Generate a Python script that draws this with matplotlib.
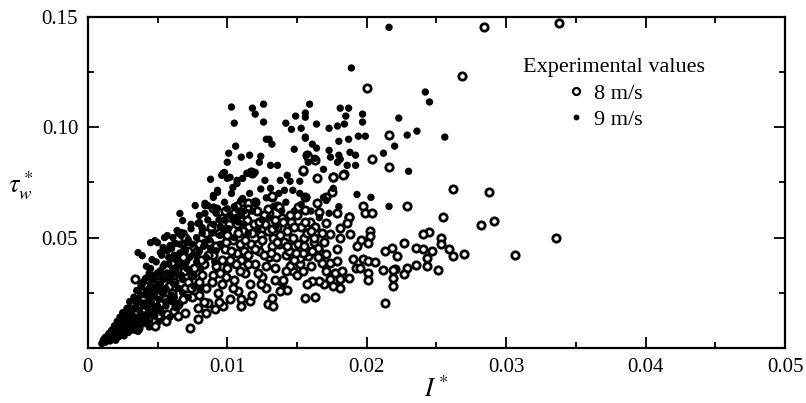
import numpy as np
import matplotlib
matplotlib.use("Agg")
import matplotlib.pyplot as plt
from matplotlib.lines import Line2D

plt.rcParams['font.family'] = ['Liberation Serif', 'DejaVu Serif']
plt.rcParams['mathtext.fontset'] = 'stix'

# values, in units of 1e-3 (I*, tau_w*)
# 9 m/s -- filled dots
x9 = [21.6, 18.9, 24.2, 24.5, 10.3, 11.8, 12.6, 12.0, 10.5, 12.6, 15.9, 14.9, 15.6, 15.6, 14.2, 14.6, 15.3, 16.4,
      18.1, 18.7, 18.5, 19.7, 19.7, 18.4, 17.9, 17.3, 22.3, 19.4, 19.9, 18.0, 18.7, 15.6, 13.0, 13.2, 10.6, 10.1,
      10.0, 11.0, 11.6, 12.4, 12.3, 13.1, 13.6, 14.8, 16.1, 16.4, 17.3, 17.4, 18.0, 18.1, 18.8, 19.2, 18.6, 19.2,
      16.9, 21.2, 22.0, 22.9, 23.6, 25.6, 23.0, 19.3, 20.3, 21.6, 8.8, 13.8, 14.3,
      12.8, 15.6, 15.7, 16.3, 15.8, 17.9,
      9.7, 10.0, 10.7, 11.1, 11.6, 12.0, 10.4, 9.3, 9.0, 8.4, 10.3, 11.1, 12.7, 14.5, 15.2, 13.1, 14.1, 14.7, 15.2,
      15.7, 17.6, 16.9, 17.1,
      9.8, 10.2, 9.6, 9.3, 9.0, 10.7, 11.4, 7.7, 6.6, 6.8, 8.6, 9.3, 8.0, 8.2, 4.8, 5.5, 5.4, 6.4, 6.7, 6.2, 7.1,
      3.6, 3.9, 4.5, 5.0, 5.2, 5.7, 6.1, 6.5, 6.7, 5.4, 5.9, 6.3, 7.9, 8.2, 9.1, 8.4,
      1.0, 1.1, 1.2, 1.3, 1.4, 1.5, 1.5, 1.2,
      1.7, 1.8, 1.9, 2.0, 2.1, 2.2, 2.3, 2.4, 2.5, 2.5, 2.0, 2.3,
      2.7, 2.8, 2.9, 3.0, 3.0, 3.1, 3.2, 3.3, 3.4, 3.5, 3.5, 2.8, 3.3,
      3.7, 3.8, 3.9, 4.0, 4.1, 4.2, 4.3, 4.4, 4.5, 4.5, 3.9, 4.3,
      4.7, 4.8, 4.9, 5.0, 5.1, 5.2, 5.3, 5.4, 5.5, 5.0, 5.4,
      5.7, 5.8, 6.0, 6.1, 6.2, 6.4, 6.6, 6.8, 7.0, 6.5, 6.9, 7.2,
      7.4, 7.8, 8.0, 8.3, 8.6, 8.9, 9.2, 9.5, 9.8, 10.2, 10.5, 10.8, 11.2, 11.6, 12.0, 12.4, 12.8, 13.3, 13.7,
      14.2, 14.8, 15.3, 16.0, 16.6, 17.3, 18.0, 11.5, 12.5, 13.5, 9.5, 10.5,
      1.3, 1.6, 1.8, 2.0, 2.2, 2.4, 2.6, 2.7, 2.9, 3.1, 3.2, 3.4, 3.6, 3.6, 3.8, 3.8, 4.0, 4.1, 4.2, 4.4, 4.4,
      4.6, 4.6, 4.8, 4.8, 5.0, 5.0, 5.2, 5.2, 5.4, 5.6, 5.6, 5.8, 5.8, 6.0, 6.0, 6.2, 6.3, 6.5, 6.6, 6.8, 6.9,
      7.1, 7.3, 7.5, 7.6, 7.8, 8.0, 8.2, 8.5, 8.7, 9.0, 9.2, 9.5, 9.8, 10.1, 10.4, 10.8, 11.2, 11.0, 3.0, 2.6,
      2.2, 1.9, 1.6, 3.8, 4.6, 4.2, 7.4, 8.4,
      4.0, 4.4, 4.9, 5.3, 5.7, 6.1, 6.4, 6.7, 7.0, 7.3, 7.7, 8.1, 8.4, 8.8, 9.1, 9.4, 9.7, 10.0, 10.6, 11.0, 11.8,
      12.2, 13.0, 13.9, 3.4, 2.9, 2.5, 2.1, 1.7, 3.6, 4.7, 6.2,
      2.6, 3.0, 3.4, 3.7, 4.0, 4.3, 4.6, 4.9, 5.3, 5.6, 6.0, 6.4, 6.8, 7.2, 7.6, 8.0, 5.9, 5.1, 4.4, 3.6]
y9 = [145.2, 126.8, 115.9, 111.4, 109.1, 108.6, 110.4, 105.9, 101.8, 102.3, 110.4, 105.0, 106.4, 104.5, 101.8, 99.0,
      99.5, 101.4, 108.6, 108.6, 105.0, 105.9, 102.3, 101.4, 100.5, 99.5, 104.1, 95.9, 95.9, 93.6, 94.5, 95.5, 94.5,
      92.3, 91.4, 88.2, 84.1, 86.4, 87.3, 86.8, 84.1, 82.7, 82.7, 90.0, 92.3, 90.5, 89.5, 86.4, 87.3, 85.5, 88.6,
      87.3, 82.7, 82.7, 80.9, 88.2, 91.4, 96.4, 98.2, 95.5, 80.0, 69.5, 68.2, 64.1, 76.4, 75.9, 78.2,
      94.5, 95.0, 87.3, 85.9, 84.1, 84.1,
      79.1, 76.8, 75.9, 76.8, 79.1, 79.5, 72.7, 71.4, 68.2, 65.5, 70.0, 67.7, 75.9, 75.5, 75.5, 72.3, 71.4, 71.4, 70.0,
      68.2, 72.3, 68.2, 66.8,
      79.5, 77.3, 78.2, 70.5, 69.1, 74.5, 79.1, 64.5, 60.9, 57.7, 64.5, 63.2, 56.8, 54.5, 48.6, 50.0, 44.1, 53.2, 50.9,
      47.3, 47.7,
      43.2, 41.8, 47.7, 47.7, 43.2, 50.9, 50.0, 51.8, 52.3, 45.5, 46.4, 47.3, 56.4, 54.1, 63.6, 64.5,
      2.0, 3.5, 2.5, 5.0, 3.5, 6.5, 4.5, 4.5,
      8.0, 5.5, 10.0, 7.5, 12.0, 9.0, 14.0, 11.0, 7.5, 16.0, 5.0, 6.5,
      13.0, 18.0, 10.0, 15.0, 21.0, 12.0, 18.0, 23.0, 14.0, 20.0, 26.0, 8.5, 10.5,
      17.0, 24.0, 29.0, 20.0, 15.0, 26.0, 32.0, 22.0, 28.0, 36.0, 12.5, 18.0,
      25.0, 33.0, 39.0, 29.0, 22.0, 35.0, 42.0, 31.0, 38.0, 19.0, 26.0,
      34.0, 41.0, 45.0, 36.0, 29.0, 40.0, 47.0, 38.0, 44.0, 33.0, 52.0, 49.0,
      56.0, 50.0, 60.0, 46.0, 58.0, 52.0, 61.0, 55.0, 66.0, 60.0, 64.0, 57.0, 62.0, 70.0, 66.0, 72.0, 68.0, 64.0, 70.0,
      66.0, 62.0, 65.0, 62.0, 59.0, 61.0, 64.0, 52.0, 58.0, 55.0, 47.0, 50.0,
      2.8, 3.2, 4.2, 3.5, 5.0, 6.0, 5.5, 9.5, 7.0, 8.0, 14.5, 11.5, 9.5, 13.5, 15.5, 20.5, 11.0, 24.0, 13.0, 16.0, 27.0,
      20.0, 31.0, 14.5, 23.0, 26.0, 34.0, 17.5, 29.0, 37.0, 21.0, 27.0, 31.0, 38.0, 24.0, 33.0, 42.0, 35.0, 27.0, 43.0,
      31.0, 45.0,
      36.0, 41.0, 47.0, 33.0, 39.0, 44.0, 52.0, 41.0, 49.0, 56.0, 44.0, 51.0, 58.0, 54.0, 58.0, 62.0, 56.0, 67.0, 17.0,
      11.5, 7.5, 6.5, 5.0, 28.0, 40.0, 37.0, 54.0, 61.0,
      30.0, 34.0, 28.0, 32.0, 44.0, 41.0, 37.0, 33.0, 38.0, 35.0, 42.0, 36.0, 48.0, 45.0, 39.0, 58.0, 54.0, 63.0, 59.0,
      60.0, 62.0, 54.0, 59.0, 62.0, 18.0, 15.5, 12.5, 9.5, 6.8, 22.0, 17.0, 23.0,
      7.0, 9.0, 8.0, 11.0, 14.0, 12.0, 15.0, 18.0, 16.0, 19.0, 21.0, 19.0, 25.0, 23.0, 28.0, 27.0, 14.0, 12.0, 9.5,
      7.5]

# 8 m/s -- open circles
x8 = [28.4, 33.8, 26.8, 20.0, 21.6, 21.6, 20.4, 18.4, 17.6, 15.7, 15.4, 11.8, 26.2, 28.8, 29.1, 28.2, 30.6, 33.6,
      22.9, 25.5,
      24.5, 24.0, 25.3, 22.7, 23.5, 24.0, 24.7, 25.3, 25.9, 26.2, 27.0, 24.3, 24.3, 25.1, 23.5, 22.9, 22.7, 22.0,
      21.9, 21.9, 21.8, 22.2,
      21.3, 19.7, 19.9, 20.4, 18.7, 20.2, 20.2, 20.1, 19.6, 19.3, 21.3, 19.0, 19.7, 20.1, 20.6, 19.2, 19.5, 20.1,
      20.1, 21.2, 21.9,
      17.9, 17.1, 16.6, 16.8, 17.4, 17.9, 17.1, 17.7, 18.2, 17.4, 18.1, 18.7, 16.9, 17.6, 18.1, 16.6, 16.1, 15.7,
      15.6, 16.3, 12.9, 13.2, 13.3, 14.3, 13.9, 15.8, 14.7, 15.2,
      13.2, 13.6, 15.6, 16.4, 17.1, 17.5, 15.6, 16.6, 17.9, 18.7, 17.1, 18.1, 18.6, 17.4, 18.1, 18.8, 16.5, 15.7,
      15.2, 14.7,
      3.6, 4.3, 4.8, 5.0, 5.7, 5.6, 6.2, 6.5, 7.0, 7.3, 7.9, 7.9, 8.5, 9.1, 9.7, 8.6, 3.4, 4.2,
      15.8, 16.3, 15.4, 16.4, 17.6, 18.3, 13.2, 11.5, 11.0, 11.7, 9.0, 10.7, 11.0, 11.6,
      5.5, 6.0, 6.5, 7.0, 7.5, 8.0, 8.0, 8.5, 9.0, 9.3, 9.6, 10.0, 10.2, 10.5, 10.8, 11.0, 11.3, 11.6, 11.0, 11.8,
      12.0, 12.3, 12.5, 12.8, 13.0, 13.4, 13.7, 14.0, 14.2, 14.5, 14.8, 15.0, 15.5, 16.0, 16.2, 16.8,
      6.5, 7.0, 7.5, 7.8, 8.3, 8.7, 9.0, 9.4, 9.8, 10.1, 10.4, 10.7, 11.1, 11.4, 11.7, 12.1, 12.4, 12.7, 13.0, 13.3,
      13.6, 13.9, 14.3, 14.6, 15.0, 15.3, 15.9, 16.3, 12.0, 12.9, 11.5, 10.5, 9.6, 8.8,
      5.0, 5.5, 6.0, 5.8, 4.6, 4.0, 3.5, 3.0, 2.5, 4.5,
      7.2, 7.6, 8.2, 8.6, 9.2, 9.6, 9.9, 10.3, 10.6, 10.9, 11.2, 11.5, 11.8, 12.2, 12.6, 12.9, 13.2, 13.5, 13.8,
      14.1, 14.4, 14.7, 15.1, 15.4, 15.7, 16.1, 16.5, 16.9, 12.2, 12.8, 13.4, 14.2, 14.8, 10.4, 9.4, 8.3, 6.8,
      6.2, 5.2, 4.0, 3.2, 2.7, 5.3, 12.4, 13.8, 15.4, 14.0, 11.9, 10.8, 9.9, 8.0, 7.2, 6.8, 7.0, 8.5, 13.4, 12.6,
      14.8, 15.6,
      8.9, 9.5, 10.2, 10.9, 11.5, 12.0, 12.5, 13.1, 13.6, 14.3, 14.9, 15.5, 16.2, 10.0, 10.7, 11.3, 12.3, 13.2,
      14.5, 9.2, 8.1, 7.4, 6.3, 5.9, 6.9, 11.3, 9.8, 13.7, 15.1, 16.0]
y8 = [145.5, 147.3, 123.2, 117.7, 96.4, 81.8, 85.5, 78.6, 77.3, 87.3, 80.0, 79.1, 71.8, 70.5, 57.3, 55.9, 42.3, 50.0,
      64.1, 59.1,
      52.3, 51.4, 50.0, 47.7, 45.5, 45.0, 44.1, 47.3, 45.0, 41.8, 42.7, 40.9, 37.3, 35.5, 37.7, 36.4, 33.6, 35.9,
      31.8, 28.2, 45.5, 41.8,
      20.5, 64.5, 60.9, 60.9, 59.1, 53.2, 50.5, 47.7, 49.1, 46.4, 44.1, 40.5, 40.5, 39.5, 39.1, 36.4, 36.4, 34.1,
      30.9, 35.5, 35.5,
      45.0, 42.7, 44.1, 38.6, 38.6, 39.5, 35.0, 34.1, 35.0, 31.4, 31.4, 31.8, 29.1, 28.2, 27.3, 30.5, 30.5, 29.1,
      22.7, 23.2, 20.0, 22.7, 19.1, 26.4, 30.0, 41.8, 35.0, 38.2,
      68.2, 64.5, 68.2, 65.5, 68.2, 70.5, 62.3, 61.4, 60.9, 59.5, 56.4, 54.5, 56.4, 51.8, 50.0, 51.8, 45.5, 44.1,
      40.9, 39.5,
      9.1, 13.2, 10.0, 14.5, 15.5, 12.3, 16.8, 14.5, 15.9, 9.1, 13.2, 18.2, 15.9, 17.7, 19.1, 20.5, 31.4, 31.4,
      86.4, 85.0, 80.5, 76.8, 77.3, 78.2, 68.6, 65.5, 65.9, 79.5, 63.6, 64.5, 22.3, 21.4,
      22.0, 25.0, 20.0, 27.0, 23.0, 30.0, 24.0, 27.0, 33.0, 25.0, 29.0, 36.0, 22.0, 31.0, 26.0, 40.0, 34.0, 29.0,
      19.0, 24.0, 38.0, 44.0, 32.0, 27.0, 41.0, 36.0, 47.0, 31.0, 42.0, 37.0, 46.0, 33.0, 50.0, 37.0, 48.0, 52.0,
      35.0, 40.0, 33.0, 44.0, 38.0, 48.0, 42.0, 52.0, 45.0, 56.0, 49.0, 43.0, 53.0, 58.0, 47.0, 62.0, 51.0, 56.0,
      61.0, 50.0, 55.0, 59.0, 53.0, 57.0, 60.0, 55.0, 57.0, 55.0, 66.0, 63.0, 63.0, 61.0, 59.0, 55.0,
      30.0, 33.0, 38.0, 28.0, 25.0, 20.0, 16.0, 13.0, 10.0, 18.0,
      30.0, 36.0, 33.0, 42.0, 37.0, 40.0, 32.0, 44.0, 38.0, 47.0, 44.0, 38.0, 52.0, 47.0, 42.0, 53.0, 46.0, 41.0,
      51.0, 48.0, 44.0, 50.0, 47.0, 43.0, 52.0, 44.0, 41.0, 48.0, 34.0, 37.0, 31.0, 35.0, 40.0, 27.0, 21.0, 21.0,
      22.0, 30.0, 20.0, 26.0, 20.0, 14.0, 26.0, 29.0, 26.0, 35.0, 57.0, 56.0, 52.0, 48.0, 47.0, 44.0, 41.0, 50.0,
      52.0, 58.0, 60.0, 55.0, 57.0,
      30.0, 34.0, 40.0, 35.0, 42.0, 45.0, 49.0, 43.0, 48.0, 46.0, 43.0, 46.0, 50.0, 51.0, 56.0, 49.0, 57.0, 54.0,
      60.0, 46.0, 40.0, 27.0, 19.0, 33.0, 35.0, 61.0, 62.0, 64.0, 64.0, 53.0]

x9 = np.array(x9) * 1e-3
y9 = np.array(y9) * 1e-3
x8 = np.array(x8) * 1e-3
y8 = np.array(y8) * 1e-3

fig = plt.figure(figsize=(8.06, 4.03), dpi=100)
ax = fig.add_axes([0.109, 0.1365, 0.865, 0.822])

ax.scatter(x8, y8, s=28, facecolors='white', edgecolors='black', linewidths=2.0, zorder=2)
ax.scatter(x9, y9, s=28, c='black', edgecolors='none', zorder=3)

ax.set_xlim(0, 0.05)
ax.set_ylim(0, 0.15)
ax.set_xticks([0, 0.01, 0.02, 0.03, 0.04, 0.05])
ax.set_xticklabels(['0', '0.01', '0.02', '0.03', '0.04', '0.05'])
ax.set_yticks([0.05, 0.10, 0.15])
ax.set_yticklabels(['0.05', '0.10', '0.15'])
ax.set_xticks(np.arange(0.005, 0.05, 0.01), minor=True)
ax.set_yticks([0.025, 0.075, 0.125], minor=True)
ax.tick_params(which='both', direction='in', top=True, right=True, labelsize=15, width=1.3)
ax.tick_params(which='major', length=8, pad=7)
ax.tick_params(which='minor', length=4)
for sp in ax.spines.values():
    sp.set_linewidth(1.6)

ax.set_xlabel(r'$I^*$', fontsize=19)
ax.xaxis.set_label_coords(0.5, -0.085)
ax.set_ylabel(r'$\tau_w^*$', fontsize=19, rotation=0, ha='center', va='center')
ax.yaxis.set_label_coords(-0.097, 0.49)

handles = [Line2D([], [], ls='none', marker='o', ms=5, mfc='white', mec='black', mew=1.6),
           Line2D([], [], ls='none', marker='o', ms=3.2, mfc='black', mec='black')]
fig.legend(handles, ['8 m/s   ', '9 m/s   '], title='Experimental values', loc='upper center',
           bbox_to_anchor=(0.762, 0.855), frameon=False, fontsize=16, title_fontsize=16,
           handlelength=0.6, handletextpad=0.5, labelspacing=0.25, borderpad=0, borderaxespad=0)

fig.savefig('out.png', dpi=100)
